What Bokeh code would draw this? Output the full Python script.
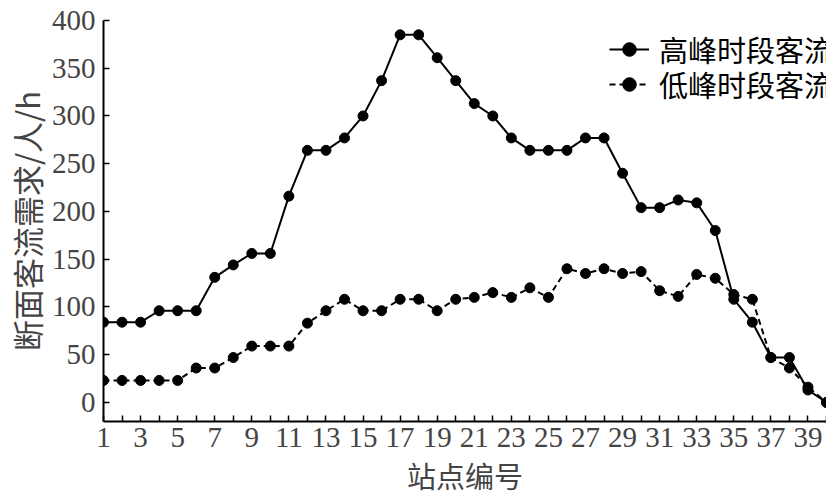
from bokeh.plotting import figure
from bokeh.models import FixedTicker, Range1d, Legend, LegendItem
from bokeh.embed import file_html
from bokeh.resources import INLINE

stations = list(range(1, 41))
peak = [84, 84, 84, 96, 96, 96, 131, 144, 156, 156,
        216, 264, 264, 277, 300, 337, 385, 385, 361, 337,
        313, 300, 277, 264, 264, 264, 277, 277, 240, 204,
        204, 212, 209, 180, 108, 84, 47, 47, 13, 0]
offpeak = [23, 23, 23, 23, 23, 36, 36, 47, 59, 59,
           59, 83, 96, 108, 96, 96, 108, 108, 96, 108,
           110, 115, 110, 120, 110, 140, 135, 140, 135, 137,
           117, 111, 134, 130, 113, 108, 47, 36, 16, 0]
y_ticks = [0, 50, 100, 150, 200, 250, 300, 350, 400]
series_names = ["高峰时段客流", "低峰时段客流"]
x_label = "站点编号"
y_label = "断面客流需求/人/h"

p = figure(width=826, height=498, output_backend="svg", toolbar_location=None,
           x_range=Range1d(1, 40.0), y_range=Range1d(-20, 400),
           min_border_left=94, min_border_right=0, min_border_top=20, min_border_bottom=0)
p.outline_line_color = None
p.xgrid.visible = False
p.ygrid.visible = False
p.background_fill_color = "white"

serif = "Liberation Serif"
cjk = "Noto Sans CJK SC"

r1l = p.line(stations, peak, line_color="black", line_width=2)
r1c = p.scatter(stations, peak, size=10, fill_color="black", line_color="black")
r2l = p.line(stations, offpeak, line_color="black", line_width=2, line_dash="6 4")
r2c = p.scatter(stations, offpeak, size=10, fill_color="black", line_color="black")


def make_legend(label, renderers, loc):
    lg = Legend(items=[LegendItem(label=label, renderers=renderers)], location=loc)
    lg.border_line_color = None
    lg.background_fill_alpha = 0
    lg.padding = 0
    lg.margin = 0
    lg.spacing = 0
    lg.glyph_width = 40
    lg.glyph_height = 34
    lg.label_height = 34
    lg.label_standoff = 10
    lg.label_text_font = cjk
    lg.label_text_font_size = "29px"
    lg.label_text_color = "black"
    return lg


p.add_layout(make_legend(series_names[0], [r1l, r1c], (506, 351)), "center")
p.add_layout(make_legend(series_names[1], [r2l, r2c], (506, 316)), "center")

xa = p.xaxis[0]
xa.ticker = FixedTicker(ticks=stations)
xa.major_label_overrides = {i: (str(i) if i % 2 == 1 else "") for i in stations}
xa.major_tick_in = 6
xa.major_tick_out = 0
xa.minor_tick_line_color = None
xa.axis_line_width = 2
xa.major_tick_line_width = 1.5
xa.major_label_text_font = serif
xa.major_label_text_font_size = "29px"
xa.major_label_standoff = 6
xa.axis_label = x_label
xa.axis_label_text_font = cjk
xa.axis_label_text_font_size = "29px"
xa.axis_label_text_font_style = "normal"
xa.axis_label_standoff = 4

ya = p.yaxis[0]
ya.ticker = FixedTicker(ticks=y_ticks)
ya.major_tick_in = 6
ya.major_tick_out = 0
ya.minor_tick_line_color = None
ya.axis_line_width = 2
ya.major_tick_line_width = 1.5
ya.major_label_text_font = serif
ya.major_label_text_font_size = "29px"
ya.major_label_standoff = 8
ya.axis_label = y_label
ya.axis_label_text_font = cjk
ya.axis_label_text_font_size = "31px"
ya.axis_label_text_font_style = "normal"
ya.axis_label_standoff = 0

open("out.html", "w").write(file_html(p, INLINE))
